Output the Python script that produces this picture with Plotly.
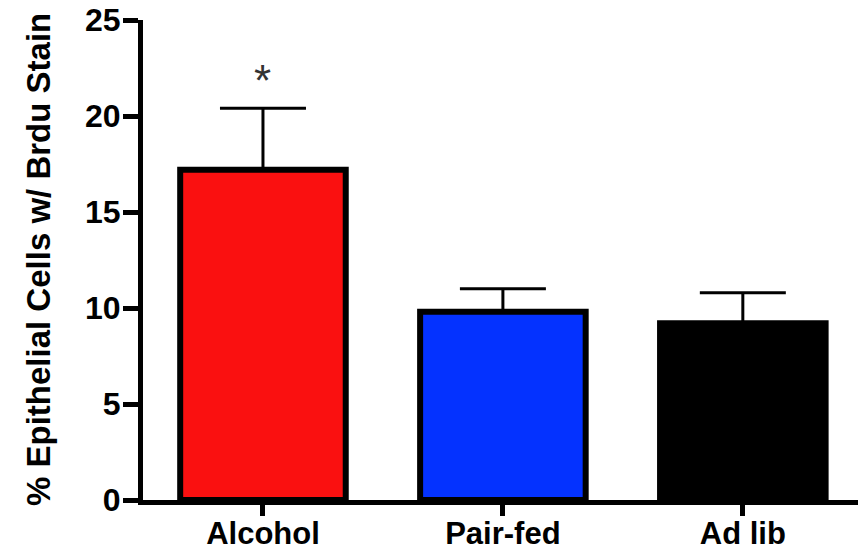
import plotly.graph_objects as go

# Group means and SEM for BrdU-positive epithelial cells
groups = ["Alcohol", "Pair-fed", "Ad lib"]
means = [17.2, 9.8, 9.2]
sem = [3.2, 1.2, 1.6]
bar_colors = ["#fa1010", "#0432ff", "#000000"]
y_ticks = [0, 5, 10, 15, 20, 25]

font_family = "Arial, Liberation Sans, sans-serif"

fig = go.Figure()
fig.add_trace(go.Bar(
    x=groups,
    y=means,
    width=0.69,
    marker=dict(color=bar_colors, line=dict(color="black", width=6)),
    error_y=dict(type="data", symmetric=False, array=sem,
                 arrayminus=[0, 0, 0], color="black", thickness=3, width=43),
))

# Significance marker above the Alcohol bar
fig.add_annotation(x=groups[0], y=means[0] + sem[0], text="*",
                   showarrow=False, yanchor="bottom", yshift=1,
                   font=dict(family=font_family, size=44, color="#333333"))

# Rotated y-axis title
fig.add_annotation(xref="paper", yref="paper", x=-105 / 715, y=0.5,
                   text="% Epithelial Cells w/ Brdu Stain",
                   textangle=-90, showarrow=False,
                   xanchor="center", yanchor="middle",
                   font=dict(family=font_family, size=33, color="black",
                             weight="bold"))

fig.update_layout(
    width=858, height=550,
    margin=dict(l=143, r=0, t=20, b=50),
    plot_bgcolor="white", paper_bgcolor="white",
    showlegend=False,
)
fig.update_xaxes(
    range=[-0.5, 2.48],
    automargin=False,
    showline=True, linecolor="black", linewidth=5,
    ticks="outside", ticklen=11, tickwidth=5, tickcolor="black",
    ticklabelstandoff=-9,
    tickfont=dict(family=font_family, size=31, color="black", weight="bold"),
    showgrid=False, zeroline=False,
)
fig.update_yaxes(
    range=[0, 25],
    tickvals=y_ticks,
    automargin=False,
    showline=True, linecolor="black", linewidth=5,
    ticks="outside", ticklen=15, tickwidth=5, tickcolor="black",
    ticklabelstandoff=-4,
    tickfont=dict(family=font_family, size=32, color="black", weight="bold"),
    showgrid=False, zeroline=False,
)

fig.write_html("out.html")
